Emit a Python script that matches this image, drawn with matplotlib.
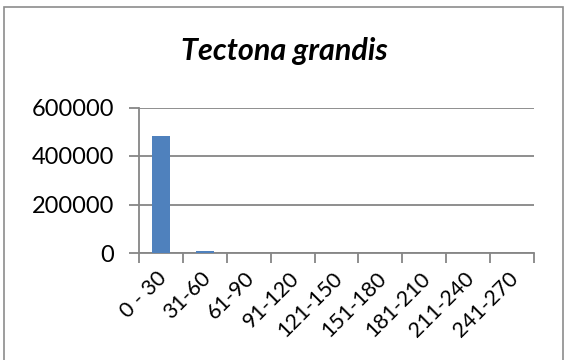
import matplotlib
matplotlib.use("Agg")
import matplotlib.pyplot as plt
from matplotlib.patches import Rectangle
from matplotlib.transforms import ScaledTranslation

categories = ["0 - 30", "31-60", "61-90", "91-120", "121-150",
              "151-180", "181-210", "211-240", "241-270"]
values = [484000, 9000, 0, 0, 0, 0, 0, 0, 0]
y_ticks = [0, 200000, 400000, 600000]

W, H = 566, 360
fig = plt.figure(figsize=(W / 100, H / 100), dpi=100)
plt.rcParams["font.family"] = ["Lato", "DejaVu Sans"]

# outer chart frame
fig.patches.append(Rectangle((4 / W, -0.05), (559 / W), (H - 7) / H + 0.05,
                             transform=fig.transFigure, fill=False,
                             edgecolor="#8c8c8c", linewidth=1.2))

ax = fig.add_axes([139 / W, 1 - 253 / H, (534 - 139) / W, (253 - 107.5) / H])
x = list(range(len(categories)))
ax.bar(x, values, width=0.4, color="#4F81BD", zorder=3)

ax.set_xlim(-0.5, len(categories) - 0.5)
ax.set_ylim(0, 600000)
ax.set_yticks(y_ticks)
ax.set_yticklabels([str(v) for v in y_ticks], fontsize=17)
ax.yaxis.grid(True, color="#868686", linewidth=1.3, zorder=0)
ax.set_axisbelow(True)

# category labels centred on bars, ticks at category boundaries
ax.set_xticks(x)
ax.set_xticklabels(categories, fontsize=15.5, rotation=45, ha="right",
                   rotation_mode="anchor")
ax.tick_params(axis="x", which="major", length=0, pad=11)
shift = ScaledTranslation(-4 / 100, 0, fig.dpi_scale_trans)
for lbl in ax.get_xticklabels():
    lbl.set_transform(lbl.get_transform() + shift)
ax.set_xticks([i - 0.5 for i in range(len(categories) + 1)], minor=True)
ax.tick_params(axis="x", which="minor", length=7, width=1.3, color="#868686",
               direction="out")
ax.tick_params(axis="y", length=7, width=1.3, color="#868686", pad=11)

for side in ("top", "right"):
    ax.spines[side].set_visible(False)
for side in ("left", "bottom"):
    ax.spines[side].set_color("#868686")
    ax.spines[side].set_linewidth(1.3)

fig.text(284 / W, 1 - 51 / H, "Tectona grandis", ha="center", va="center",
         fontsize=22, fontweight="bold", fontstyle="italic")

fig.savefig("out.png", dpi=100)
